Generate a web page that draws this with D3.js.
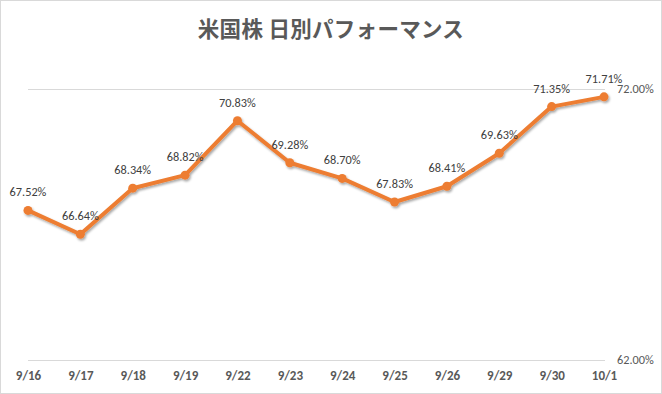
<!DOCTYPE html>
<html><head><meta charset="utf-8">
<script src="https://cdn.jsdelivr.net/npm/d3@7/dist/d3.min.js"></script>
<style>body{margin:0;background:#fff}svg{display:block}</style>
</head><body>
<script>
const categories = ["9/16","9/17","9/18","9/19","9/22","9/23","9/24","9/25","9/26","9/29","9/30","10/1"];
const values = [67.52,66.64,68.34,68.82,70.83,69.28,68.70,67.83,68.41,69.63,71.35,71.71];
const yTicks = [62,72];
const title = "米国株 日別パフォーマンス";

const W=662,H=394;
const FONT="Calibri, Carlito, 'Liberation Sans', sans-serif";
const svg=d3.select("body").append("svg").attr("width",W).attr("height",H);
const defs=svg.append("defs");
const f=defs.append("filter").attr("id","sh").attr("x","-20%").attr("y","-20%").attr("width","140%").attr("height","140%");
f.append("feDropShadow").attr("dx",1.2).attr("dy",1.8).attr("stdDeviation",1.3).attr("flood-color","#000").attr("flood-opacity",0.35);

svg.append("rect").attr("x",0.5).attr("y",0.5).attr("width",W-1).attr("height",H-1).attr("fill","#fff").attr("stroke","#d9d9d9");

svg.append("text").attr("x",331).attr("y",37).attr("text-anchor","middle")
 .attr("font-family","'Noto Sans CJK JP', sans-serif").attr("font-size",21.5).attr("font-weight",700)
 .attr("fill","#595959").attr("letter-spacing",0.3).text(title);

const x=d3.scalePoint().domain(categories).range([28,604]);
const y=d3.scaleLinear().domain([62,72]).range([360,89]);

const grid=svg.append("g");
grid.selectAll("line").data(yTicks).join("line")
 .attr("x1",28).attr("x2",605).attr("y1",d=>y(d)+0.5).attr("y2",d=>y(d)+0.5)
 .attr("stroke","#d9d9d9").attr("stroke-width",1);

const yAxis=d3.axisRight(y).tickValues(yTicks).tickFormat(d=>d.toFixed(2)+"%").tickSize(0).tickPadding(0);
const ya=svg.append("g").attr("transform","translate(617,0)").call(yAxis);
ya.select(".domain").remove();
ya.selectAll("text").attr("font-family",FONT).attr("font-size",12.3).attr("fill","#595959").attr("text-anchor","start");

const xAxis=d3.axisBottom(x).tickSize(0).tickPadding(0);
const xa=svg.append("g").attr("transform","translate(0,371)").call(xAxis);
xa.select(".domain").remove();
xa.selectAll("text").attr("font-family",FONT).attr("font-size",13).attr("font-weight","bold").attr("fill","#595959");

const data=categories.map((c,i)=>({c,v:values[i]}));
const g=svg.append("g").attr("filter","url(#sh)");
g.append("path").datum(data).attr("fill","none").attr("stroke","#ED7D31").attr("stroke-width",4).attr("stroke-linejoin","round")
 .attr("d",d3.line().x(d=>x(d.c)).y(d=>y(d.v)));
g.selectAll("circle").data(data).join("circle").attr("cx",d=>x(d.c)).attr("cy",d=>y(d.v)).attr("r",4.5).attr("fill","#ED7D31");

svg.append("g").selectAll("text").data(data).join("text")
 .attr("x",d=>x(d.c)).attr("y",d=>y(d.v)-14).attr("text-anchor","middle")
 .attr("font-family",FONT).attr("font-size",12.3).attr("fill","#404040")
 .text(d=>d.v.toFixed(2)+"%");
</script>
</body></html>
